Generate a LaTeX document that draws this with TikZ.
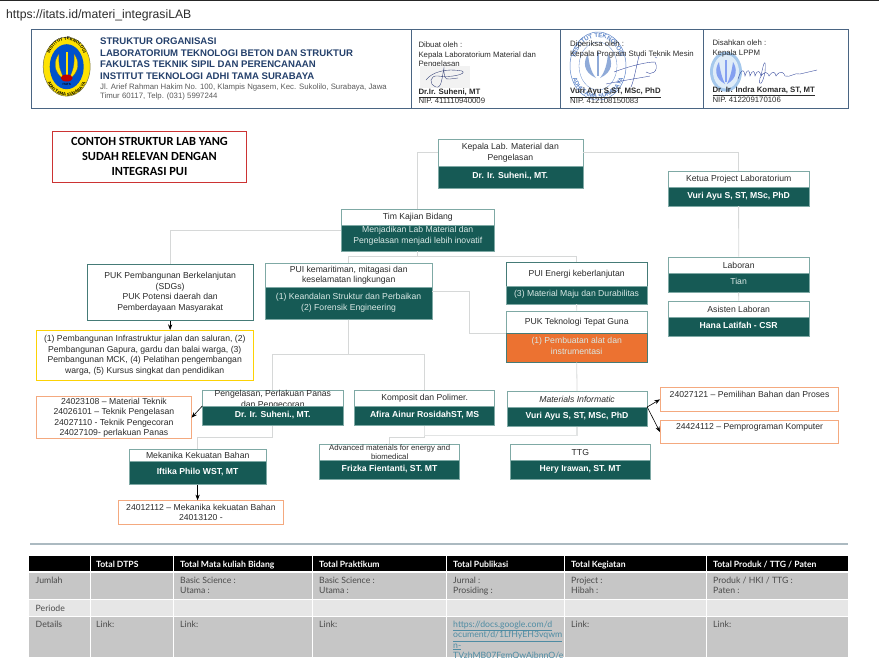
\documentclass[tikz,border=0pt]{standalone}
\usepackage{fontspec}
\usepackage{xcolor}
\setmainfont{Liberation Sans}
\newfontfamily\titlefont{Carlito}
\newfontfamily\tablefont{Lato}
\usetikzlibrary{arrows.meta,decorations.text}
\definecolor{labgreen}{HTML}{165A55}
\definecolor{cardline}{HTML}{7FA9A5}
\definecolor{connline}{HTML}{D6D8D8}
\definecolor{ink}{HTML}{2B2B2B}
\definecolor{softwhite}{HTML}{D9E8E5}
\definecolor{kopline}{HTML}{4A6583}
\definecolor{kopnavy}{HTML}{24406B}
\definecolor{codeline}{HTML}{F4A97F}
\definecolor{puiorange}{HTML}{EC7231}
\definecolor{stampblue}{HTML}{5F86C8}
\definecolor{stamplight}{HTML}{A5C8EC}
\definecolor{signblue}{HTML}{3C4FA0}
\definecolor{rowgray}{HTML}{C6C6C6}
\definecolor{rowlight}{HTML}{E6E6E6}
\definecolor{linkteal}{HTML}{4F8CA3}

\begin{document}
\begin{tikzpicture}[x=1pt,y=-1pt,
  head/.style={rectangle, draw=cardline, line width=0.7pt, fill=white, anchor=north west,
               inner sep=0pt, text=ink, align=center, font=\fontsize{8.65}{10.6}\selectfont},
  body/.style={rectangle, draw=cardline, line width=0.5pt, fill=labgreen, anchor=north west,
               inner sep=0pt, text=softwhite, align=center, text depth=3pt, font=\fontsize{8.65}{10.6}\selectfont},
  person/.style={body, text=white, font=\fontsize{8.65}{10.6}\selectfont\bfseries},
  kode/.style={rectangle, draw=codeline, line width=0.8pt, fill=white, anchor=north west,
               inner sep=0pt, text=ink, align=center, font=\fontsize{8.65}{10.6}\selectfont},
  conn/.style={draw=connline, line width=0.8pt},
  arr/.style={draw=black, -Stealth, line width=0.6pt},
  kop/.style={anchor=north west, inner sep=0pt, align=left, font=\fontsize{7.8}{9.3}\selectfont, text=ink},
  cell/.style={anchor=north west, inner sep=0pt, align=left, text=ink!85, font=\tablefont\fontsize{8.7}{10.3}\selectfont},
  hcell/.style={cell, text=white, font=\tablefont\fontsize{8.6}{10.3}\selectfont\bfseries},
]
\useasboundingbox (0,0) rectangle (879,657);
\clip (0,0) rectangle (879,657);
\fill[black!85] (0,0) rectangle (879,1);
\node[anchor=west, inner sep=0pt, text=ink, font=\fontsize{12.2}{14}\selectfont] (URL) at (6,15) {https://itats.id/materi\_integrasiLAB};

% Letterhead
\draw[kopline, line width=0.8pt] (31.7,29) rectangle (848,108.3);
\draw[kopline, line width=0.8pt] (411.7,29) -- (411.7,108.3) (560,29) -- (560,108.3) (703,29) -- (703,108.3);

% Logo
\fill[yellow!85!orange, draw=black!60!yellow, line width=0.5pt] (66.7,66.7) ellipse [x radius=23.5, y radius=29.5];
\fill[blue!60!cyan!80!black] (66.7,66.7) ellipse [x radius=17, y radius=22.5];
\fill[yellow!85!orange, draw=black!70!yellow, line width=0.2pt] (65,80) .. controls (52,72) and (54,60) .. (59,54) .. controls (58,64) and (60,72) .. (65,80);
\fill[yellow!85!orange, draw=black!70!yellow, line width=0.2pt] (68,80) .. controls (81,72) and (79,60) .. (74,54) .. controls (75,64) and (73,72) .. (68,80);
\fill[yellow!85!orange] (65.7,52) rectangle (67.7,78);
\fill[red!75!black] (66.7,78) ellipse [x radius=6, y radius=3.5];
\node[inner sep=0pt, text=black, font=\fontsize{3}{3}\selectfont\bfseries] (LG) at (66.7,84.5) {ITATS};
\path[decorate, decoration={text along path, text align=center, text={|\fontsize{4.3}{4.3}\selectfont\bfseries|INSTITUT TEKNOLOGI}}]
  (47.5,66.7) .. controls (47.5,31) and (85.9,31) .. (85.9,66.7);
\path[decorate, decoration={text along path, text align=center, text={|\fontsize{4.3}{4.3}\selectfont\bfseries|ADHI TAMA SURABAYA}}]
  (44.5,66.7) .. controls (44.5,106) and (88.9,106) .. (88.9,66.7);

% Stamps and signatures
\node[kop] (S1) at (418.3,42) {Dibuat oleh :\\Kepala Laboratorium Material dan\\Pengelasan};
\fill[black!5] (420,66) rectangle (470,88);
\draw[signblue!70!black, line width=0.35pt] (426,80) .. controls (432,72) and (446,68) .. (462,71) .. controls (468,74) and (450,78) .. (438,76) .. controls (430,75) and (428,84) .. (436,87) .. controls (442,89) and (442,76) .. (444,68) .. controls (444,76) and (444,80) .. (450,79) -- (458,78);
\draw[stampblue, line width=0.5pt] (598,66) ellipse [x radius=28, y radius=34];
\draw[stampblue, line width=0.3pt] (598,66) ellipse [x radius=19, y radius=24];
\fill[stampblue!70] (596,78) .. controls (583,72) and (583,62) .. (588,54) .. controls (589,64) and (591,72) .. (596,78);
\fill[stampblue!70] (600,78) .. controls (613,72) and (613,62) .. (608,54) .. controls (607,64) and (605,72) .. (600,78);
\fill[stampblue!70] (597,52) rectangle (599,76);
\path[decorate, decoration={text along path, text align=center, text={|\color{stampblue}\fontsize{6}{6}\selectfont\bfseries|INSTITUT TEKNOLOGI}}]
  (575,66) .. controls (575,28) and (621,28) .. (621,66);
\path[decorate, decoration={text along path, text align=center, text={|\color{stampblue}\fontsize{6}{6}\selectfont\bfseries|ADHI TAMA SURABAYA}}]
  (571,66) .. controls (571,109) and (625,109) .. (625,66);
\draw[signblue, line width=0.4pt] (639,56) .. controls (636,68) and (634,80) .. (631,87) (614,72) .. controls (630,66) and (646,62) .. (655,62) .. controls (660,72) and (650,76) .. (646,72) (655,57) -- (657,58) (606,84) .. controls (625,80) and (640,78) .. (650,76);
\fill[stamplight] (726,71.7) ellipse [x radius=16, y radius=20];
\fill[stamplight!35] (726,71.7) ellipse [x radius=13, y radius=17];
\fill[stamplight!80!blue] (725,84) .. controls (714,78) and (715,68) .. (719,62) .. controls (720,70) and (722,78) .. (725,84);
\fill[stamplight!80!blue] (727,84) .. controls (738,78) and (737,68) .. (733,62) .. controls (732,70) and (730,78) .. (727,84);
\fill[stamplight!80!blue] (725.2,60) rectangle (726.8,82);
\draw[signblue, line width=0.4pt] (738,79) .. controls (742,66) and (745,71) .. (745,76) .. controls (748,66) and (750,72) .. (750,76) .. controls (753,68) and (755,72) .. (755,76) .. controls (758,68) and (760,72) .. (761,76) .. controls (764,60) and (766,58) .. (765,72) .. controls (763,84) and (758,88) .. (760,78) .. controls (764,70) and (768,72) .. (769,76) .. controls (773,70) and (775,72) .. (776,76) .. controls (780,70) and (784,72) .. (785,76) .. controls (790,78) and (795,72) .. (800,74) -- (817,70);

% Letterhead texts
\node[kop, text=kopnavy, font=\fontsize{9.6}{11.65}\selectfont\bfseries] (KT) at (100,37.5) {STRUKTUR ORGANISASI\\LABORATORIUM TEKNOLOGI BETON DAN STRUKTUR\\FAKULTAS TEKNIK SIPIL DAN PERENCANAAN\\INSTITUT TEKNOLOGI ADHI TAMA SURABAYA};
\node[kop, text=black!65, font=\fontsize{7.8}{9.6}\selectfont] (KA) at (100,83.5) {Jl. Arief Rahman Hakim No. 100, Klampis Ngasem, Kec. Sukolilo, Surabaya, Jawa\\Timur 60117, Telp. (031) 5997244};
\node[kop] (S2) at (570,41) {Diperiksa oleh :\\Kepala Program Studi Teknik Mesin};
\node[kop] (S3) at (712.3,40) {Disahkan oleh :\\Kepala LPPM};
\node[kop] (N1) at (418.3,88.5) {\textbf{\underline{Dr.Ir. Suheni, MT}}\\NIP. 411110940009};
\node[kop] (N2) at (570,88) {\textbf{\underline{Vuri Ayu S,ST, MSc, PhD}}\\NIP. 412108150083};
\node[kop] (N3) at (712.3,87) {\textbf{\underline{Dr. Ir. Indra Komara, ST, MT}}\\NIP. 412209170106};

% Title
\node[anchor=north west, draw=red!75!black!80!white, line width=0.9pt, fill=white, minimum width=194pt, minimum height=51pt, inner sep=0pt, align=center, text=black, font=\titlefont\fontsize{12.4}{15}\selectfont\bfseries] (TT) at (52,131) {CONTOH STRUKTUR LAB YANG\\SUDAH RELEVAN DENGAN\\INTEGRASI PUI};

% Cards
\node[head, minimum width=145pt, minimum height=26.7pt] (KL) at (437.5,139) {Kepala Lab. Material dan\\Pengelasan};
\node[person, minimum width=145pt, minimum height=22.3pt] (KLb) at (437.5,165.7) {Dr. Ir. Suheni., MT.};
\node[head, minimum width=140.7pt, minimum height=16pt] (KP) at (668,170.7) {Ketua Project Laboratorium};
\node[person, minimum width=140.7pt, minimum height=19pt] (KPb) at (668,186.7) {Vuri Ayu S, ST, MSc, PhD};
\node[body, minimum width=153pt, minimum height=25.7pt, text depth=6pt] (TBb) at (341,225) {Menjadikan Lab Material dan\\Pengelasan menjadi lebih inovatif};
\node[head, minimum width=153pt, minimum height=16pt] (TB) at (341,209) {Tim Kajian Bidang};
\node[head, draw=labgreen!80, line width=0.9pt, minimum width=166pt, minimum height=56.3pt] (PB) at (86.7,263.7) {PUK Pembangunan Berkelanjutan\\(SDGs)\\PUK Potensi daerah dan\\Pemberdayaan Masyarakat};
\node[head, minimum width=166.7pt, minimum height=24.3pt] (PK) at (265,262.7) {PUI kemaritiman, mitagasi dan\\keselamatan lingkungan};
\node[body, minimum width=166.7pt, minimum height=32pt] (PKb) at (265,287) {(1) Keandalan Struktur dan Perbaikan\\(2) Forensik Engineering};
\node[head, draw=labgreen!80, minimum width=140.7pt, minimum height=24pt] (PE) at (506,262) {PUI Energi keberlanjutan};
\node[body, minimum width=140.7pt, minimum height=17.7pt, text depth=4pt] (PEb) at (506,286) {(3) Material Maju dan Durabilitas};
\node[head, minimum width=140.7pt, minimum height=22pt] (TG) at (506,310.7) {PUK Teknologi Tepat Guna};
\node[body, fill=puiorange, draw=labgreen!80, line width=0.7pt, minimum width=140.7pt, minimum height=29pt] (TGb) at (506,332.7) {(1) Pembuatan alat dan\\instrumentasi};
\node[head, minimum width=140.7pt, minimum height=16.3pt] (LB) at (668,256.7) {Laboran};
\node[body, minimum width=140.7pt, minimum height=19pt] (LBb) at (668,273) {Tian};
\node[head, minimum width=140.7pt, minimum height=16.3pt] (AS) at (668,300.7) {Asisten Laboran};
\node[person, minimum width=140.7pt, minimum height=19pt] (ASb) at (668,317) {Hana Latifah - CSR};
\node[head, minimum width=140.4pt, minimum height=16pt] (MT) at (202.3,390) {Pengelasan, Perlakuan Panas\\dan Pengecoran};
\node[person, minimum width=140.4pt, minimum height=19.3pt] (MTb) at (202.3,406) {Dr. Ir. Suheni., MT.};
\node[head, minimum width=140pt, minimum height=16pt] (KO) at (354.3,390) {Komposit dan Polimer.};
\node[person, minimum width=140pt, minimum height=19.3pt] (KOb) at (354.3,406) {Afira Ainur RosidahST, MS};
\node[head, minimum width=140pt, minimum height=16pt, font=\fontsize{8.65}{10.6}\selectfont\itshape] (MI) at (506.7,391) {Materials Informatic};
\node[person, minimum width=140pt, minimum height=19pt] (MIb) at (506.7,407) {Vuri Ayu S, ST, MSc, PhD};
\node[head, minimum width=137.3pt, minimum height=12pt] (MK) at (128.7,449) {Mekanika Kekuatan Bahan};
\node[person, minimum width=137.3pt, minimum height=23.3pt] (MKb) at (128.7,461) {Iftika Philo WST, MT};
\node[head, minimum width=140pt, minimum height=16.3pt, font=\fontsize{7.8}{9.4}\selectfont] (AD) at (319.3,443.7) {Advanced materials for energy and\\biomedical};
\node[person, minimum width=140pt, minimum height=19pt] (ADb) at (319.3,460) {Frizka Fientanti, ST. MT};
\node[head, minimum width=140pt, minimum height=16.3pt] (TT2) at (510,443.7) {TTG};
\node[person, minimum width=140pt, minimum height=19pt] (TT2b) at (510,460) {Hery Irawan, ST. MT};

% Outcome boxes
\node[kode, draw=yellow!70!orange, minimum width=216.7pt, minimum height=50pt] (YL) at (36,330) {(1) Pembangunan Infrastruktur jalan dan saluran, (2)\\Pembangunan Gapura, gardu dan balai warga, (3)\\Pembangunan MCK, (4) Pelatihan pengembangan\\warga, (5) Kursus singkat dan pendidikan};
\node[kode, minimum width=154.4pt, minimum height=42pt] (KD1) at (36.3,396.3) {24023108 -- Material Teknik\\24026101 -- Teknik Pengelasan\\24027110 - Teknik Pengecoran\\24027109- perlakuan Panas};
\node[kode, minimum width=164.4pt, minimum height=23.4pt] (KD2) at (118.3,500.3) {24012112 -- Mekanika kekuatan Bahan\\24013120 -};
\node[kode, minimum width=178.3pt, minimum height=23.4pt, text depth=11pt] (KD3) at (660,387.3) {24027121 -- Pemilihan Bahan dan Proses};
\node[kode, minimum width=178.3pt, minimum height=23.3pt, text depth=11pt] (KD4) at (660,420) {24424112 -- Pemprograman Komputer};

% Connectors
\draw[conn] (KL.west) -| (TB.north);
\draw[conn] (KL.east) -| (KP.north);
\draw[conn] (KPb.south) -- (LB.north);
\draw[conn] (LBb.south) -- (AS.north);
\draw[conn] ([yshift=8pt]TBb.west) -| (PB.north);
\draw[conn] (TBb.south) -- ++(0,5.6) -| (PK.north);
\draw[conn] (TBb.south) -- ++(0,5.6) -| (PE.north);
\draw[conn] (PEb.south) -- (TG.north);
\draw[conn] ([yshift=11.7pt]PKb.east) -- ++(37.3,0) |- ([yshift=14pt]TGb.west);
\draw[conn] (PKb.south) -- ++(0,35.3) -| (MT.north);
\draw[conn] (PKb.south) -- ++(0,35.3) -| (KO.north);
\draw[conn] (TGb.south) -- (MI.north);
\draw[conn] (MTb.south) -- ++(0,12) -| (MK.north);
\draw[conn] (KOb.south) -- ++(0,11.5) -| (AD.north);
\draw[conn, line width=1.2pt, draw=connline!70] (MIb.south) -- ++(0,9) -| (KOb.south);
\draw[arr] (PB.south) -- (YL.north -| PB.south);
\draw[arr] (MTb.north west) -- (KD1.east);
\draw[arr] (MKb.south) -- (KD2.north -| MKb.south);
\draw[arr] (MIb.north east) -- (KD3.west);
\draw[arr] (MIb.north east) -- (KD4.west);

% Table
\fill[black!35!cyan!30!gray!60] (29.5,543.3) rectangle (848,544.6);
\fill[black] (29.3,556) rectangle (848,571);
\fill[rowgray] (29.3,572.7) rectangle (848,599);
\fill[rowlight] (29.3,599.5) rectangle (848,616.3);
\fill[rowgray] (29.3,617) rectangle (848,657);
\draw[white, line width=0.8pt] (90,556) -- (90,657) (173.3,556) -- (173.3,657) (312.7,556) -- (312.7,657) (446.7,556) -- (446.7,657) (564.7,556) -- (564.7,657) (706.7,556) -- (706.7,657);
\node[hcell] (H1) at (96,561) {Total DTPS};
\node[hcell] (H2) at (180,561) {Total Mata kuliah Bidang};
\node[hcell] (H3) at (319,561) {Total Praktikum};
\node[hcell] (H4) at (453,561) {Total Publikasi};
\node[hcell] (H5) at (571,561) {Total Kegiatan};
\node[hcell] (H6) at (713,561) {Total Produk / TTG / Paten};
\node[cell] (R1) at (35.5,577) {Jumlah};
\node[cell] (R2) at (180,577) {Basic Science :\\Utama :};
\node[cell] (R3) at (319,577) {Basic Science :\\Utama :};
\node[cell] (R4) at (453,577) {Jurnal :\\Prosiding :};
\node[cell] (R5) at (571,577) {Project :\\Hibah :};
\node[cell] (R6) at (713,577) {Produk / HKI / TTG :\\Paten :};
\node[cell] (P1) at (35.5,604.5) {Periode};
\node[cell] (D1) at (35.5,621) {Details};
\node[cell] (D2) at (96,621) {Link:};
\node[cell] (D3) at (180,621) {Link:};
\node[cell] (D4) at (319,621) {Link:};
\node[cell, text=linkteal] (D5) at (453,621) {\underline{https://docs.google.com/d}\\\underline{ocument/d/1LfHyEH3vqwm}\\\underline{n-}\\\underline{TVzhMB07FgmQwAjbnnO/e}};
\node[cell] (D6) at (571,621) {Link:};
\node[cell] (D7) at (713,621) {Link:};
\end{tikzpicture}
\end{document}
